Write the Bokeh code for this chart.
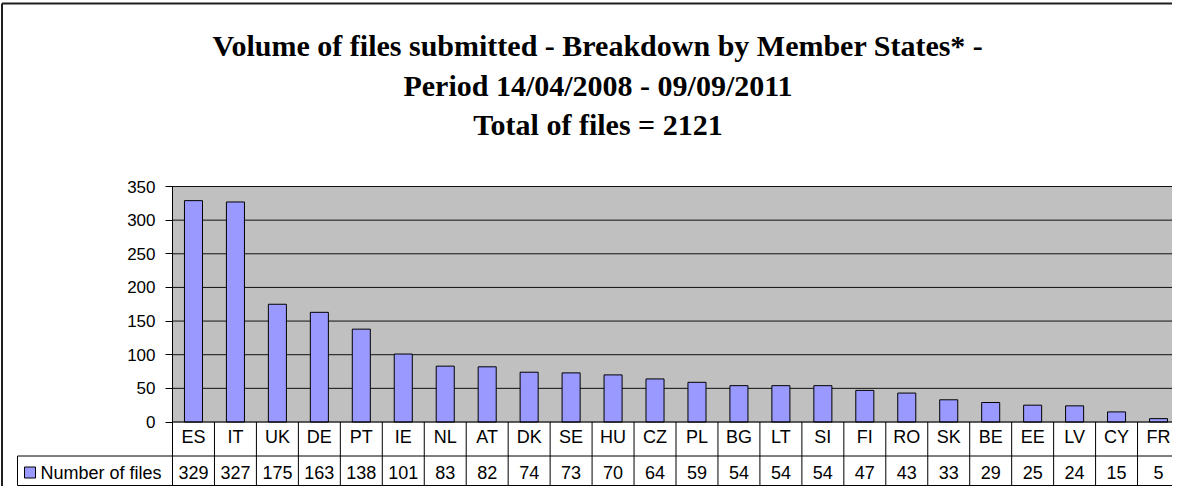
from bokeh.plotting import figure
from bokeh.models import ColumnDataSource, Range1d, FixedTicker, LinearAxis
from bokeh.embed import file_html
from bokeh.resources import INLINE
from bokeh.core.properties import value

# ---------------- data ----------------
title_lines = [
    "Volume of files submitted - Breakdown by Member States* -",
    "Period 14/04/2008 - 09/09/2011",
    "Total of files = 2121",
]
countries = ["ES", "IT", "UK", "DE", "PT", "IE", "NL", "AT", "DK", "SE", "HU", "CZ",
             "PL", "BG", "LT", "SI", "FI", "RO", "SK", "BE", "EE", "LV", "CY", "FR"]
files = [329, 327, 175, 163, 138, 101, 83, 82, 74, 73, 70, 64,
         59, 54, 54, 54, 47, 43, 33, 29, 25, 24, 15, 5]
series_name = "Number of files"
y_ticks = [0, 50, 100, 150, 200, 250, 300, 350]

# ---------------- layout (pixels, figure coordinates) ----------------
W, H = 1172, 486
CAT_L, CAT_R = 172, 1179             # category zone (plot area) in px
PLOT_T, ZERO_Y = 186, 421.5          # px of top tick and of 0
ROW1_B, ROW2_B = 455.5, 485          # table row bottoms
LEG_L = 17                           # legend cell left edge
BORDER_X, BORDER_Y = 1.5, 3          # outer chart border
TITLE_X = 597.5
TITLE_BASE = [45, 85, 124]
CAT_TXT_Y, VAL_TXT_Y = 436.5, 472

n = len(countries)
ymax = y_ticks[-1]
cw = (CAT_R - CAT_L) / n
sy = (ZERO_Y - PLOT_T) / ymax

def px_x(px):
    return (px - CAT_L) / cw

def px_y(px):
    return (ZERO_Y - px) / sy

p = figure(width=W, height=H, output_backend="svg", toolbar_location=None,
           x_range=Range1d(px_x(0), px_x(W)), y_range=Range1d(px_y(H), px_y(0)),
           x_axis_location=None, y_axis_location=None,
           min_border_left=0, min_border_right=0, min_border_top=0, min_border_bottom=0)
p.border_fill_color = "white"
p.background_fill_color = "white"
p.outline_line_color = None
p.xgrid.visible = False
p.ygrid.visible = False

# outer chart border (left and top edges visible)
p.segment(x0=[px_x(BORDER_X), px_x(BORDER_X)], x1=[px_x(BORDER_X), px_x(W)],
          y0=[px_y(H), px_y(BORDER_Y)], y1=[px_y(BORDER_Y), px_y(BORDER_Y)],
          line_color="#1e1e1e", line_width=2)

# title
p.text(x=[px_x(TITLE_X)] * 3, y=[px_y(b) for b in TITLE_BASE], text=title_lines,
       text_align="center", text_baseline="alphabetic",
       text_font=value("Liberation Serif"), text_font_size="30px",
       text_font_style="bold", text_color="black")

idx = [i + 0.5 for i in range(n)]
src = ColumnDataSource(dict(x=idx, top=files, cat=countries,
                            val=[str(v) for v in files]))

# plot area background & gridlines
p.quad(left=[0], right=[n], bottom=[0], top=[ymax], fill_color="#C0C0C0",
       line_color="#808080", line_width=1)
p.segment(x0=[0] * (len(y_ticks) - 1), x1=[n] * (len(y_ticks) - 1),
          y0=y_ticks[1:], y1=y_ticks[1:], line_color="#111111", line_width=1)

# bars
p.vbar(x="x", top="top", bottom=0, width=0.43, source=src,
       fill_color="#9999FF", line_color="black", line_width=1)

# y axis at the plot-area left edge
yax = LinearAxis(fixed_location=0, ticker=FixedTicker(ticks=y_ticks))
yax.axis_line_color = None
yax.major_tick_line_color = "black"
yax.major_tick_in = 0
yax.major_tick_out = 7
yax.minor_tick_line_color = None
yax.major_label_standoff = 10
yax.major_label_text_font = "Liberation Sans"
yax.major_label_text_font_size = "17px"
yax.major_label_text_color = "black"
p.add_layout(yax, "left")

row1, row2 = px_y(ROW1_B), px_y(ROW2_B)
leg_x = px_x(LEG_L)

# plot-area left edge (continues through the data table)
p.segment(x0=[0], x1=[0], y0=[row2], y1=[ymax], line_color="black", line_width=1)
# data table lines
p.segment(x0=[0], x1=[n], y0=[0], y1=[0], line_color="black", line_width=1)
p.segment(x0=[leg_x, leg_x], x1=[n, n], y0=[row1, row2], y1=[row1, row2],
          line_color="black", line_width=1)
bx = list(range(1, n + 1))
p.segment(x0=bx, x1=bx, y0=[row2] * n, y1=[0] * n, line_color="black", line_width=1)
p.segment(x0=[leg_x], x1=[leg_x], y0=[row2], y1=[row1], line_color="black", line_width=1)

p.text(x="x", y=px_y(CAT_TXT_Y), text="cat", source=src, text_align="center",
       text_baseline="middle", text_font=value("Liberation Sans"),
       text_font_size="18px", text_color="black")
p.text(x="x", y=px_y(VAL_TXT_Y), text="val", source=src, text_align="center",
       text_baseline="middle", text_font=value("Liberation Sans"),
       text_font_size="18px", text_color="black")

# legend key inside the table
p.scatter(x=[px_x(LEG_L + 12.5)], y=[px_y(VAL_TXT_Y)], marker="square", size=11,
          fill_color="#9999FF", line_color="black", line_width=1)
p.text(x=[px_x(LEG_L + 23)], y=[px_y(VAL_TXT_Y)], text=[series_name],
       text_align="left", text_baseline="middle", text_font=value("Liberation Sans"),
       text_font_size="18px", text_color="black")

open("out.html", "w").write(file_html(p, INLINE))
